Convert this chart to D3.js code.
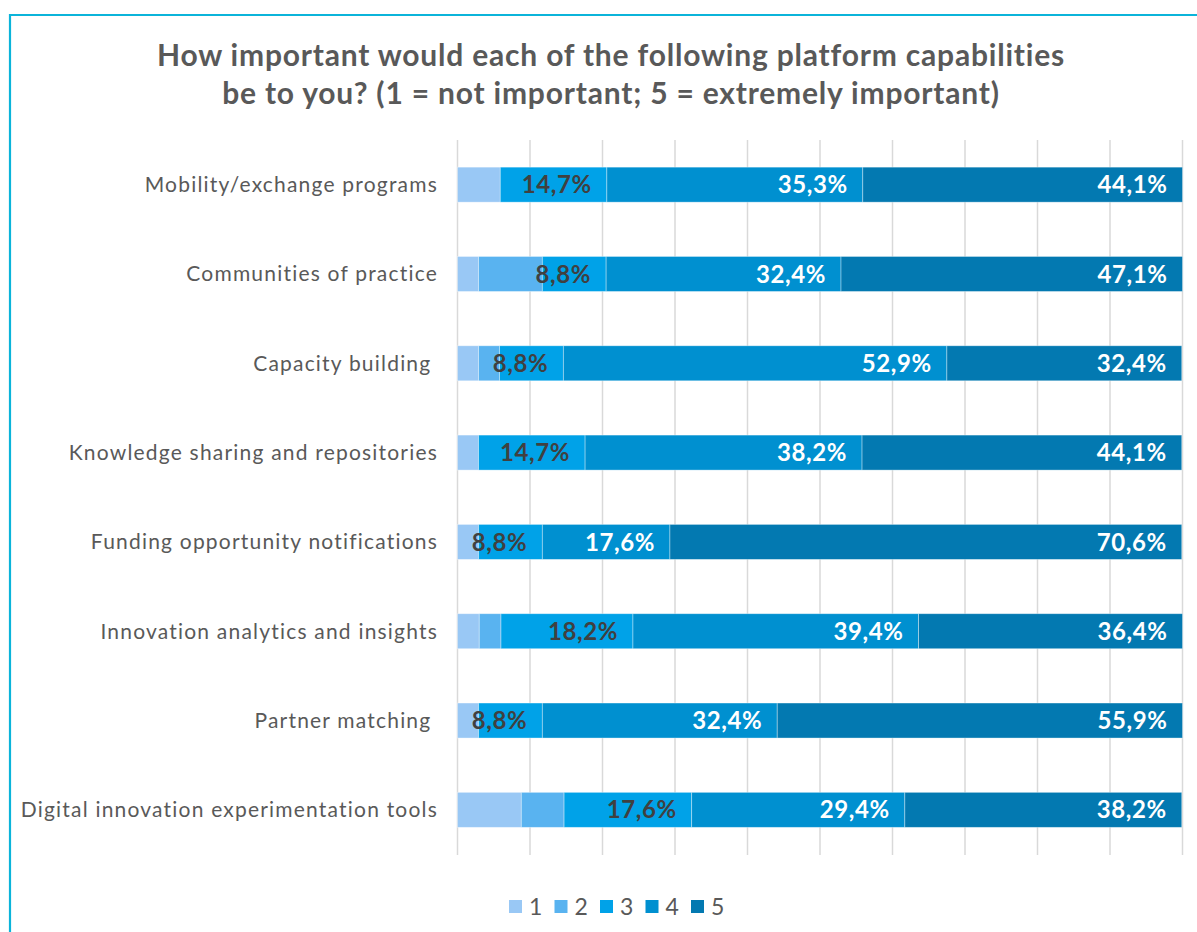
<!DOCTYPE html>
<html>
<head>
<meta charset="utf-8">
<script src="https://cdn.jsdelivr.net/npm/d3@7"></script>
<style>
  html, body { margin: 0; padding: 0; background: #ffffff; }
  svg { display: block; }
  text { font-family: "Lato", "Open Sans", sans-serif; }
</style>
</head>
<body>
<svg id="chart" width="1197" height="932"></svg>
<script>
// Survey categories (top to bottom) and the share of respondents per rating
const categories = [
  "Mobility/exchange programs",
  "Communities of practice",
  "Capacity building ",
  "Knowledge sharing and repositories",
  "Funding opportunity notifications",
  "Innovation analytics and insights",
  "Partner matching ",
  "Digital innovation experimentation tools"
];
const ratings = ["1", "2", "3", "4", "5"];
const rating1 = [5.9, 2.9, 2.9, 2.9, 2.9, 3.0, 2.9, 8.8];
const rating2 = [0.0, 8.8, 2.9, 0.0, 0.0, 3.0, 0.0, 5.9];
const rating3 = [14.7, 8.8, 8.8, 14.7, 8.8, 18.2, 8.8, 17.6];
const rating4 = [35.3, 32.4, 52.9, 38.2, 17.6, 39.4, 32.4, 29.4];
const rating5 = [44.1, 47.1, 32.4, 44.1, 70.6, 36.4, 55.9, 38.2];
const gridTicks = [0, 10, 20, 30, 40, 50, 60, 70, 80, 90, 100];
const titleLines = [
  "How important would each of the following platform capabilities",
  "be to you? (1 = not important; 5 = extremely important)"
];

const seriesValues = [rating1, rating2, rating3, rating4, rating5];
const colors = ["#99c8f5", "#59b3f0", "#00a2e8", "#0090d0", "#0379b1"];
const labelColors = ["#404040", "#404040", "#404040", "#ffffff", "#ffffff"];
// data labels are printed for ratings 3, 4 and 5
const labelledSeries = [false, false, true, true, true];

const svg = d3.select("#chart");

// frame lines along the top and left edge
svg.append("line").attr("x1", 10).attr("x2", 1197).attr("y1", 15).attr("y2", 15)
  .attr("stroke", "#0bb4da").attr("stroke-width", 2.2);
svg.append("line").attr("x1", 10).attr("x2", 10).attr("y1", 14).attr("y2", 932)
  .attr("stroke", "#0bb4da").attr("stroke-width", 2.2);

// title
svg.append("g").selectAll("text").data(titleLines).join("text")
  .attr("x", 611).attr("y", (d, i) => 66 + i * 38)
  .attr("text-anchor", "middle")
  .attr("font-size", 30).attr("font-weight", 700).attr("fill", "#595959")
  .attr("letter-spacing", 0.8)
  .text(d => d);

const x = d3.scaleLinear().domain([0, 100]).range([457.5, 1182.5]);
const y = d3.scaleBand().domain(categories).range([140, 854.5])
  .paddingInner(0.608).paddingOuter(0.304);

// vertical gridlines
svg.append("g").selectAll("line").data(gridTicks).join("line")
  .attr("x1", d => x(d)).attr("x2", d => x(d))
  .attr("y1", 140).attr("y2", 855)
  .attr("stroke", "#d9d9d9").attr("stroke-width", 1.5);

// stacked layout
const rows = categories.map((c, i) => {
  const r = { category: c };
  ratings.forEach((k, j) => { r[k] = seriesValues[j][i]; });
  return r;
});
const stacked = d3.stack().keys(ratings)(rows);

const layers = svg.append("g").selectAll("g").data(stacked).join("g")
  .attr("fill", (d, i) => colors[i]);

layers.selectAll("rect").data(d => d.filter(s => s[1] - s[0] > 0)).join("rect")
  .attr("x", d => x(d[0]))
  .attr("y", d => y(d.data.category))
  .attr("width", d => x(d[1]) - x(d[0]))
  .attr("height", y.bandwidth())
  .attr("stroke", "rgba(255,255,255,0.45)")
  .attr("stroke-width", 0.8);

// value labels, placed at the inside end of each segment
const fmt = v => v.toFixed(1).replace(".", ",") + "%";
layers.each(function (layer, i) {
  if (!labelledSeries[i]) return;
  d3.select(this).selectAll("text")
    .data(layer.filter(s => s[1] - s[0] > 0))
    .join("text")
    .attr("x", d => x(d[1]) - 15)
    .attr("y", d => y(d.data.category) + y.bandwidth() / 2)
    .attr("dy", "0.36em")
    .attr("text-anchor", "end")
    .attr("font-size", 24).attr("font-weight", 700)
    .attr("letter-spacing", 0.6)
    .attr("fill", labelColors[i])
    .text(d => fmt(d[1] - d[0]));
});

// category axis labels
svg.append("g").selectAll("text").data(categories).join("text")
  .attr("x", 438)
  .attr("y", d => y(d) + y.bandwidth() / 2)
  .attr("dy", "0.35em")
  .attr("text-anchor", "end")
  .style("white-space", "pre")
  .attr("font-size", 21).attr("fill", "#595959")
  .attr("letter-spacing", 1.2)
  .text(d => d);

// legend
const legend = svg.append("g").selectAll("g").data(ratings).join("g")
  .attr("transform", (d, i) => `translate(${509 + i * 45.5},900)`);
legend.append("rect").attr("width", 13).attr("height", 13)
  .attr("fill", (d, i) => colors[i]);
legend.append("text").attr("x", 20).attr("y", 14.5)
  .attr("font-size", 23).attr("fill", "#595959")
  .text(d => d);
</script>
</body>
</html>
